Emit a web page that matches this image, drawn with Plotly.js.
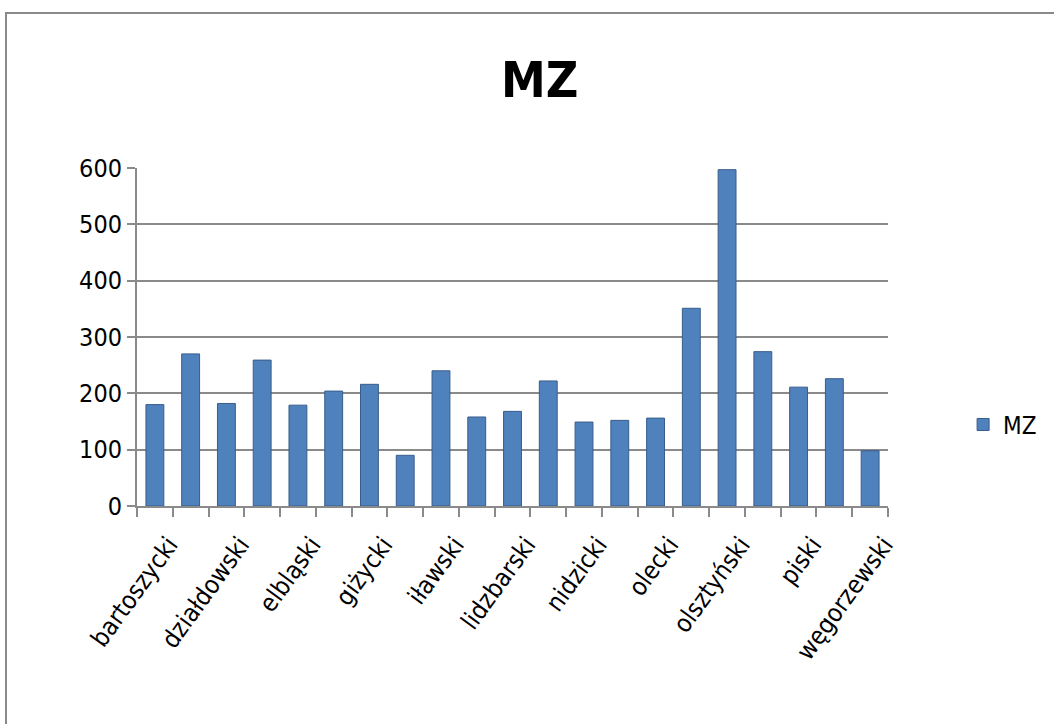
<!DOCTYPE html>
<html>
<head>
<meta charset="utf-8">
<script src="https://cdn.plot.ly/plotly-3.0.1.min.js"></script>
<style>
html,body{margin:0;padding:0;background:#fff;overflow:hidden;}
#chart{width:1054px;height:724px;}
#frame{position:absolute;left:5px;top:12px;width:1100px;height:800px;border-top:2px solid #8a8a8a;border-left:2px solid #8a8a8a;pointer-events:none;}
</style>
</head>
<body>
<div id="chart"></div>
<div id="frame"></div>
<script>
const categories = ["bartoszycki","braniewski","działdowski","Elbląg","elbląski","ełcki","giżycki","gołdapski","iławski","kętrzyński","lidzbarski","mrągowski","nidzicki","nowomiejski","olecki","Olsztyn","olsztyński","ostródzki","piski","szczycieński","węgorzewski"];
const values = [180,270,182,259,179,204,216,90,240,158,168,222,149,152,156,351,597,274,211,226,98];
const tickLabels = categories.map((c,i)=> i%2===0 ? c : "");
const yTicks = [0,100,200,300,400,500,600];

const fontFam = "'Liberation Sans Narrow','DejaVu Sans Condensed','Roboto Condensed',Lato,sans-serif";

Plotly.newPlot('chart', [{
  type:'bar',
  x: categories,
  y: values,
  name:'MZ',
  marker:{color:'#4F81BD', line:{color:'#385D8A', width:1}},
  hoverinfo:'x+y'
}], {
  width:1054, height:724,
  margin:{l:137, r:164, t:168, b:218},
  paper_bgcolor:'#fff', plot_bgcolor:'#fff',
  title:{text:'<b>MZ</b>', font:{family:fontFam, size:50, color:'#000'}, x:0.512, xanchor:'center', y:0.89, yanchor:'middle'},
  bargap:0.5,
  showlegend:true,
  legend:{x:1.1, xanchor:'left', y:0.24, yanchor:'middle', font:{family:fontFam, size:24, color:'#000'}},
  xaxis:{
    type:'category',
    tickvals: categories, ticktext: tickLabels,
    tickangle:-54, tickson:'boundaries', ticks:'outside', ticklen:9, tickcolor:'#8a8a8a', tickwidth:2,
    showline:true, linecolor:'#8a8a8a', linewidth:2,
    showgrid:false, ticklabelshift:14, ticklabelstandoff:12,
    tickfont:{family:fontFam, size:25, color:'#000'}
  },
  yaxis:{
    range:[0,600], tickvals:yTicks, ticks:'outside', ticklen:8, tickcolor:'#8a8a8a', tickwidth:2,
    showline:true, linecolor:'#8a8a8a', linewidth:2,
    showgrid:true, gridcolor:'#8a8a8a', gridwidth:2, zeroline:false,
    tickfont:{family:fontFam, size:25, color:'#000'}
  }
}, {displayModeBar:false, staticPlot:true});
</script>
</body>
</html>
